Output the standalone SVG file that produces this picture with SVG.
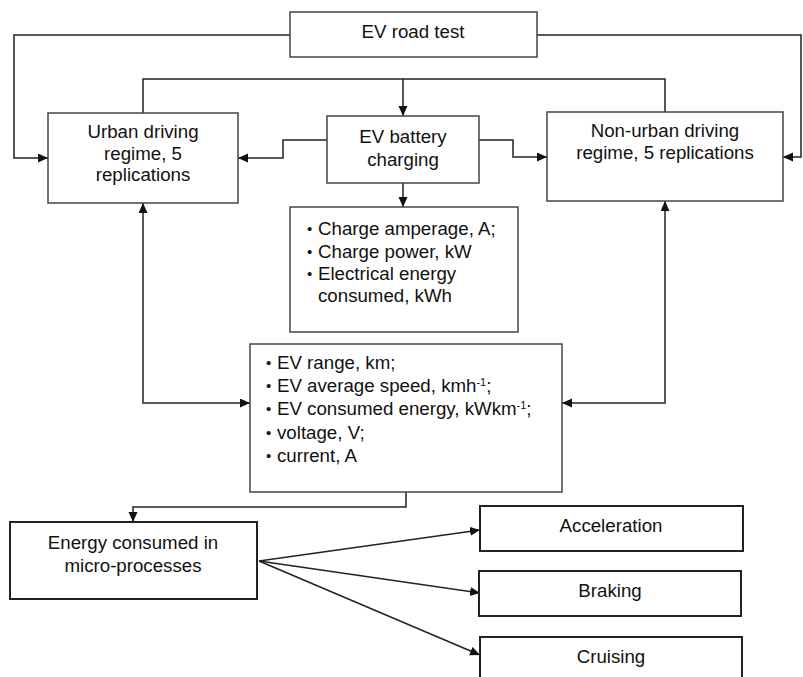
<svg xmlns="http://www.w3.org/2000/svg" width="803" height="677" viewBox="0 0 803 677">
<style>
  .box { fill: #fff; stroke: #444; stroke-width: 1.5; }
  .box2 { fill: #fff; stroke: #222; stroke-width: 2; }
  .lbl { font-family: "Liberation Sans", Arial, sans-serif; font-size: 18.7px; fill: #111; }
  .c { text-anchor: middle; }
  .sup { font-size: 11px; }
  .bul { font-size: 15px; }
  .conn { fill: none; stroke: #222; stroke-width: 1.5; }
</style>
<defs>
  <marker id="ah" markerUnits="userSpaceOnUse" markerWidth="11" markerHeight="10" refX="10" refY="4.5" orient="auto-start-reverse">
    <path d="M0,0 L10,4.5 L0,9 z" fill="#111"/>
  </marker>
</defs>

<g id="connectors">
  <path class="conn" d="M290,35 H14 V158 H48" marker-end="url(#ah)"/>
  <path class="conn" d="M537,35 H801 V157 H783" marker-end="url(#ah)"/>
  <path class="conn" d="M143,113 V79 H665 V112"/>
  <path class="conn" d="M403,79 V116" marker-end="url(#ah)"/>
  <path class="conn" d="M327,140 H283 V158 H238" marker-end="url(#ah)"/>
  <path class="conn" d="M479,140 H513 V157 H547" marker-end="url(#ah)"/>
  <path class="conn" d="M403,183 V207" marker-end="url(#ah)"/>
  <path class="conn" d="M143,203 V403 H250" marker-start="url(#ah)" marker-end="url(#ah)"/>
  <path class="conn" d="M665,201 V403 H562" marker-start="url(#ah)" marker-end="url(#ah)"/>
  <path class="conn" d="M406,492 V507 H133 V522" marker-end="url(#ah)"/>
  <path class="conn" d="M259,561 L480,530" marker-end="url(#ah)"/>
  <path class="conn" d="M259,561 L480,593" marker-end="url(#ah)"/>
  <path class="conn" d="M259,561 L480,655" marker-end="url(#ah)"/>
</g>

<g id="ev-road-test">
  <rect class="box" x="290" y="12" width="247" height="45"/>
  <text class="lbl c" x="413" y="38">EV road test</text>
</g>

<g id="urban">
  <rect class="box" x="48" y="113" width="190" height="90"/>
  <text class="lbl c" x="143" y="138">Urban driving</text>
  <text class="lbl c" x="143" y="160">regime, 5</text>
  <text class="lbl c" x="143" y="181">replications</text>
</g>

<g id="battery">
  <rect class="box" x="327" y="116" width="152" height="67"/>
  <text class="lbl c" x="403" y="143">EV battery</text>
  <text class="lbl c" x="403" y="166">charging</text>
</g>

<g id="non-urban">
  <rect class="box" x="547" y="112" width="236" height="89"/>
  <text class="lbl c" x="665" y="137">Non-urban driving</text>
  <text class="lbl c" x="665" y="159">regime, 5 replications</text>
</g>

<g id="charge-params">
  <rect class="box" x="290" y="207" width="228" height="125"/>
  <text class="lbl"><tspan class="bul" x="307" y="234">•</tspan><tspan x="318" y="235">Charge amperage, A;</tspan></text>
  <text class="lbl"><tspan class="bul" x="307" y="257">•</tspan><tspan x="318" y="258">Charge power, kW</tspan></text>
  <text class="lbl"><tspan class="bul" x="307" y="279">•</tspan><tspan x="318" y="280">Electrical energy</tspan></text>
  <text class="lbl" x="318" y="302">consumed, kWh</text>
</g>

<g id="ev-params">
  <rect class="box" x="250" y="344" width="312" height="148"/>
  <text class="lbl"><tspan class="bul" x="266" y="368">•</tspan><tspan x="277" y="369">EV range, km;</tspan></text>
  <text class="lbl"><tspan class="bul" x="266" y="391">•</tspan><tspan x="277" y="392">EV average speed, kmh</tspan><tspan class="sup" dy="-6">-1</tspan><tspan dy="6">;</tspan></text>
  <text class="lbl"><tspan class="bul" x="266" y="414">•</tspan><tspan x="277" y="415">EV consumed energy, kWkm</tspan><tspan class="sup" dy="-6">-1</tspan><tspan dy="6">;</tspan></text>
  <text class="lbl"><tspan class="bul" x="266" y="438">•</tspan><tspan x="277" y="439">voltage, V;</tspan></text>
  <text class="lbl"><tspan class="bul" x="266" y="461">•</tspan><tspan x="277" y="462">current, A</tspan></text>
</g>

<g id="energy-micro">
  <rect class="box2" x="10" y="522" width="247" height="77"/>
  <text class="lbl c" x="133" y="549">Energy consumed in</text>
  <text class="lbl c" x="133" y="572">micro-processes</text>
</g>

<g id="acceleration">
  <rect class="box2" x="480" y="506" width="263" height="45"/>
  <text class="lbl c" x="611" y="532">Acceleration</text>
</g>

<g id="braking">
  <rect class="box2" x="479" y="571" width="262" height="45"/>
  <text class="lbl c" x="610" y="597">Braking</text>
</g>

<g id="cruising">
  <rect class="box2" x="480" y="637" width="262" height="50"/>
  <text class="lbl c" x="611" y="663">Cruising</text>
</g>
</svg>
